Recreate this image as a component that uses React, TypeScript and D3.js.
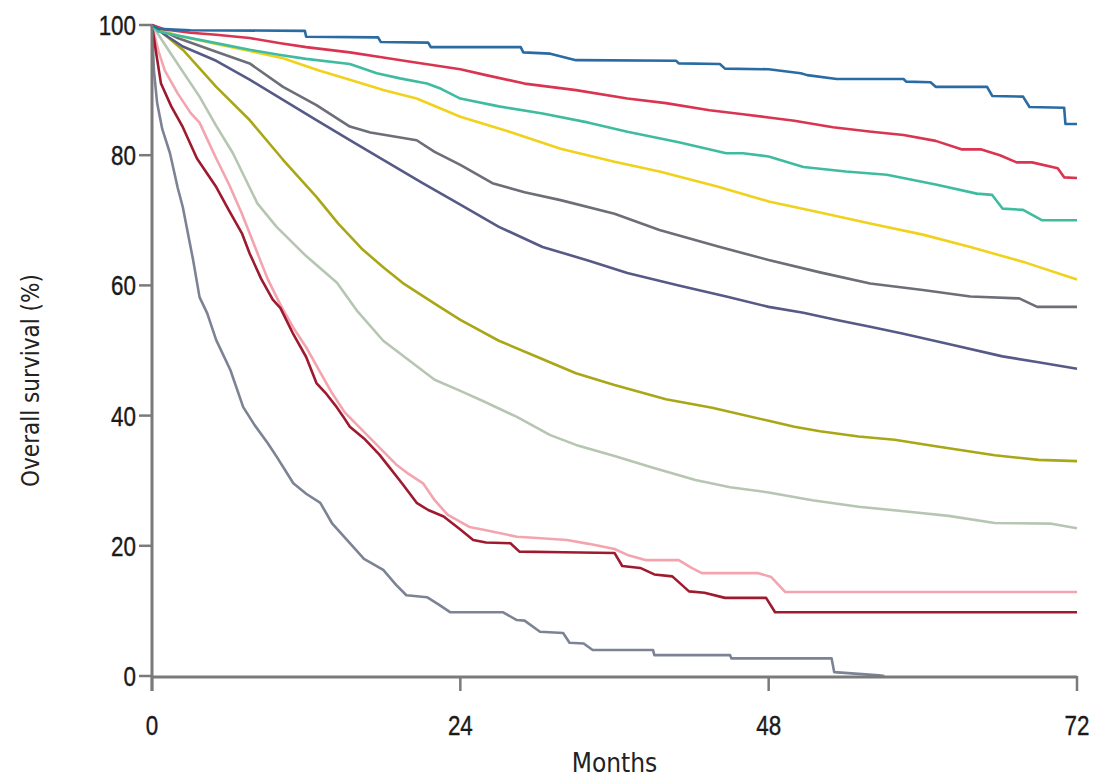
import React from "react";
import * as d3 from "d3";

const xTicks = [0, 24, 48, 72];
const yTicks = [0, 20, 40, 60, 80, 100];
const xTitle = "Months";
const yTitle = "Overall survival (%)";

const blue: [number, number][] = [[0,100],[0.5,99.4],[3,99.2],[11.9,99.1],[12.0,98.2],[17.6,98.1],[17.8,97.4],[21.5,97.3],[21.7,96.6],[28.7,96.6],[28.9,95.8],[31,95.6],[33,94.6],[40.8,94.5],[41.0,94.1],[44.2,94.0],[44.6,93.3],[48,93.2],[50.5,92.6],[51,92.3],[53.3,91.7],[58.5,91.7],[58.7,91.3],[60.6,91.2],[61,90.5],[65,90.5],[65.4,89.1],[67.8,89.0],[68.3,87.4],[71,87.3],[71.1,84.8],[72,84.8]];
const red: [number, number][] = [[0,100],[1,99.3],[3,98.8],[5,98.5],[7.6,98.0],[10,97.2],[12,96.6],[15.4,95.8],[18,95],[20,94.4],[24,93.2],[26,92.3],[29,91],[33,90],[37,88.7],[40,88],[43.4,86.9],[46,86.3],[48,85.8],[50,85.3],[53,84.3],[56,83.6],[58.5,83.1],[61,82.2],[63,80.9],[64.5,80.9],[66,80],[67.3,78.9],[68.5,78.9],[70.5,78.0],[71,76.6],[72,76.5]];
const teal: [number, number][] = [[0,100],[0.5,99],[2,98.4],[4,97.6],[7.6,96.2],[10,95.4],[12,94.8],[15.4,94.0],[17.5,92.6],[19.3,91.8],[21.4,91.0],[22.5,90.2],[24,88.7],[27,87.5],[30.4,86.4],[34,85],[37,83.6],[41,82],[44.7,80.3],[46,80.3],[48,79.8],[50.7,78.2],[54,77.5],[57.2,77.0],[61,75.5],[64.2,74.1],[65.4,73.9],[66.2,71.8],[67.8,71.6],[69.3,70.0],[72,70.0]];
const yellow: [number, number][] = [[0,100],[1,99],[2,98.4],[5,97.1],[7.6,96],[10.2,94.9],[13,93],[15.4,91.6],[18,90],[20.6,88.7],[24,85.9],[28,83.5],[31.8,81.0],[36,79],[39.5,77.5],[44,75.2],[48,72.9],[52,71.2],[55.9,69.5],[60,67.8],[63.7,65.9],[68,63.5],[72,60.9]];
const gray: [number, number][] = [[0,100],[1,99],[2,98],[5,95.9],[7.6,94.1],[10.2,90.5],[12.8,87.7],[15.4,84.4],[17,83.5],[20.6,82.3],[22,80.5],[24,78.5],[26.5,75.7],[29,74.3],[31.8,73.1],[36,71],[39.5,68.5],[44,66],[48,63.9],[52,62],[55.9,60.3],[60,59.3],[63.7,58.3],[67.5,58],[68.9,56.7],[72,56.7]];
const purple: [number, number][] = [[0,100],[1,98.5],[2.4,96.7],[5,94.5],[7.6,91.6],[10.2,88.5],[12.8,85.4],[15.4,82.3],[18,79.3],[21,75.8],[24,72.4],[27,69],[30.4,65.9],[34,63.8],[37,61.9],[41,60],[44.7,58.3],[48,56.7],[50.7,55.8],[53.3,54.7],[56,53.6],[58.4,52.6],[62,51],[66.2,49.1],[69,48.2],[72,47.2]];
const olive: [number, number][] = [[0,100],[1,98.5],[2.5,96],[5,90.5],[7.6,85.4],[10.2,79.3],[12.8,73.6],[14.5,69.5],[16.4,65.5],[18,62.8],[19.5,60.4],[22,57.2],[24,54.7],[27,51.5],[30,49],[33,46.5],[36,44.7],[40,42.5],[43.6,41.2],[48,39.2],[50,38.3],[52,37.6],[55,36.8],[57.8,36.3],[61,35.3],[65.6,33.9],[69,33.2],[72,33.0]];
const pale: [number, number][] = [[0,100],[1,97],[2,94],[3.7,89],[5,84.5],[6.3,80.3],[8.2,72.6],[9.7,69],[12,64.5],[14.4,60.4],[16,56],[18,51.5],[20,48.5],[22,45.5],[24,43.8],[25.8,42.2],[28.4,39.8],[31,37],[33,35.5],[36,33.8],[39,32],[42.3,30.1],[45,29],[48,28.2],[51.4,27.0],[55,26],[59.1,25.2],[62,24.6],[65.6,23.5],[70,23.4],[72,22.7]];
const pink: [number, number][] = [[0,100],[0.5,96],[1,93],[2,89.5],[3,86.5],[3.7,85],[5,79.5],[6,75.5],[7,71],[8,66],[9,61],[10,57],[11,53.5],[12,50.5],[13,47],[14,43.5],[15,40.5],[16,38.5],[17,36.5],[18,34.5],[19,32.5],[20,31],[21.1,29.6],[22,27],[23,24.8],[24.7,22.9],[26,22.4],[28.4,21.4],[30,21.2],[32.3,20.9],[34,20.3],[36,19.5],[37,18.6],[38.4,17.8],[41,17.8],[42,16.6],[42.8,15.8],[47.2,15.8],[48.2,15.2],[49.3,12.9],[72,12.9]];
const darkRed: [number, number][] = [[0,100],[0.3,96],[0.7,91],[1.5,87.5],[2.4,84.3],[3.5,79.5],[5,75.1],[6,71.5],[7,68],[7.6,64.9],[8.5,61],[9.4,57.8],[10,56.5],[11,52.5],[12,49],[12.8,45],[13.5,43.5],[14.3,41.5],[14.9,39.8],[15.4,38.3],[16.5,36.5],[17.7,34],[18.5,32],[19.5,29.5],[20.6,26.6],[21.5,25.5],[22.7,24.5],[24,22.5],[25,20.9],[26,20.5],[27.9,20.4],[28.6,19.1],[32,19.0],[36,18.9],[36.6,16.9],[38,16.6],[39.1,15.6],[40.5,15.3],[41.8,13],[43,12.8],[44.6,12.0],[47.8,12.0],[48.5,9.8],[72,9.8]];
const lowest: [number, number][] = [[0,100],[0.15,93],[0.4,88],[0.8,84],[1.4,80.3],[2,75],[2.4,72],[3.2,63.9],[3.7,58.2],[4.3,55.7],[5,51.6],[6.1,47],[7.1,41.3],[8,38.5],[9,35.8],[9.7,33.7],[11,29.6],[12,28],[13.1,26.6],[14,23.5],[15.4,20.4],[16.5,18],[18,16.3],[19,14],[19.8,12.4],[21.4,12.1],[22.3,11],[23.2,9.8],[27.3,9.8],[28.4,8.6],[29,8.5],[30.2,6.8],[32,6.6],[32.5,5.1],[33.6,5.0],[34.3,4.0],[39,4.0],[39.1,3.2],[45,3.2],[45.1,2.7],[52.9,2.7],[53.1,0.6],[56.6,0.1],[57,0]];

const series = [
  { data: lowest, color: "#7c8395" },
  { data: pink, color: "#f4a4ae" },
  { data: darkRed, color: "#9e1a2e" },
  { data: pale, color: "#b6c6b2" },
  { data: olive, color: "#a9a716" },
  { data: purple, color: "#565a86" },
  { data: gray, color: "#6c6e78" },
  { data: yellow, color: "#f0d21c" },
  { data: teal, color: "#3fbca0" },
  { data: red, color: "#d93450" },
  { data: blue, color: "#2b6ba3" },
];

const TICK_FONT = "'Liberation Sans', Arial, sans-serif";
const TITLE_FONT = "'DejaVu Sans Condensed', 'Liberation Sans', sans-serif";

export default function App() {
  const x = d3.scaleLinear().domain([0, 72]).range([152, 1077]);
  const y = d3.scaleLinear().domain([0, 100]).range([676, 25]);
  const line = d3
    .line<[number, number]>()
    .x((d) => x(d[0]))
    .y((d) => y(d[1]))
    .curve(d3.curveLinear);
  const axisColor = "#7a7a7a";
  const sx = 0.8;
  return (
    <svg
      width={1099}
      height={778}
      style={{ position: "absolute", left: 0, top: 0, background: "#fff" }}
    >
      {series.map((s, i) => (
        <path key={i} d={line(s.data) || ""} fill="none" stroke={s.color} strokeWidth={2.6} strokeLinejoin="round" />
      ))}
      <line x1={x(0)} x2={x(0)} y1={y(100)} y2={y(0) + 15} stroke={axisColor} strokeWidth={3} />
      <line x1={x(0)} x2={x(72)} y1={y(0) + 1} y2={y(0) + 1} stroke={axisColor} strokeWidth={3} />
      {yTicks.map((t) => (
        <g key={"y" + t}>
          <line x1={x(0) - 13} x2={x(0)} y1={y(t)} y2={y(t)} stroke={axisColor} strokeWidth={2.5} />
          <g transform={`translate(${x(0) - 16}, ${y(t)}) scale(${sx}, 1)`}>
            <text dy="0.36em" textAnchor="end" fontFamily={TICK_FONT} fontSize={28} fill="#1a1a1a" stroke="#1a1a1a" strokeWidth={0.4}>
              {t}
            </text>
          </g>
        </g>
      ))}
      {xTicks.map((t) => (
        <g key={"x" + t}>
          <line x1={x(t)} x2={x(t)} y1={y(0)} y2={y(0) + 15} stroke={axisColor} strokeWidth={2.5} />
          <g transform={`translate(${x(t)}, 735) scale(${sx}, 1)`}>
            <text textAnchor="middle" fontFamily={TICK_FONT} fontSize={28} fill="#1a1a1a" stroke="#1a1a1a" strokeWidth={0.4}>
              {t}
            </text>
          </g>
        </g>
      ))}
      <text x={(x(0) + x(72)) / 2} y={772} textAnchor="middle" fontFamily={TITLE_FONT} fontSize={26} fill="#222">
        {xTitle}
      </text>
      <text
        transform={`translate(39, ${(y(0) + y(100)) / 2 + 30}) rotate(-90)`}
        textAnchor="middle"
        fontFamily={TITLE_FONT}
        fontSize={24}
        fill="#222"
      >
        {yTitle}
      </text>
    </svg>
  );
}
